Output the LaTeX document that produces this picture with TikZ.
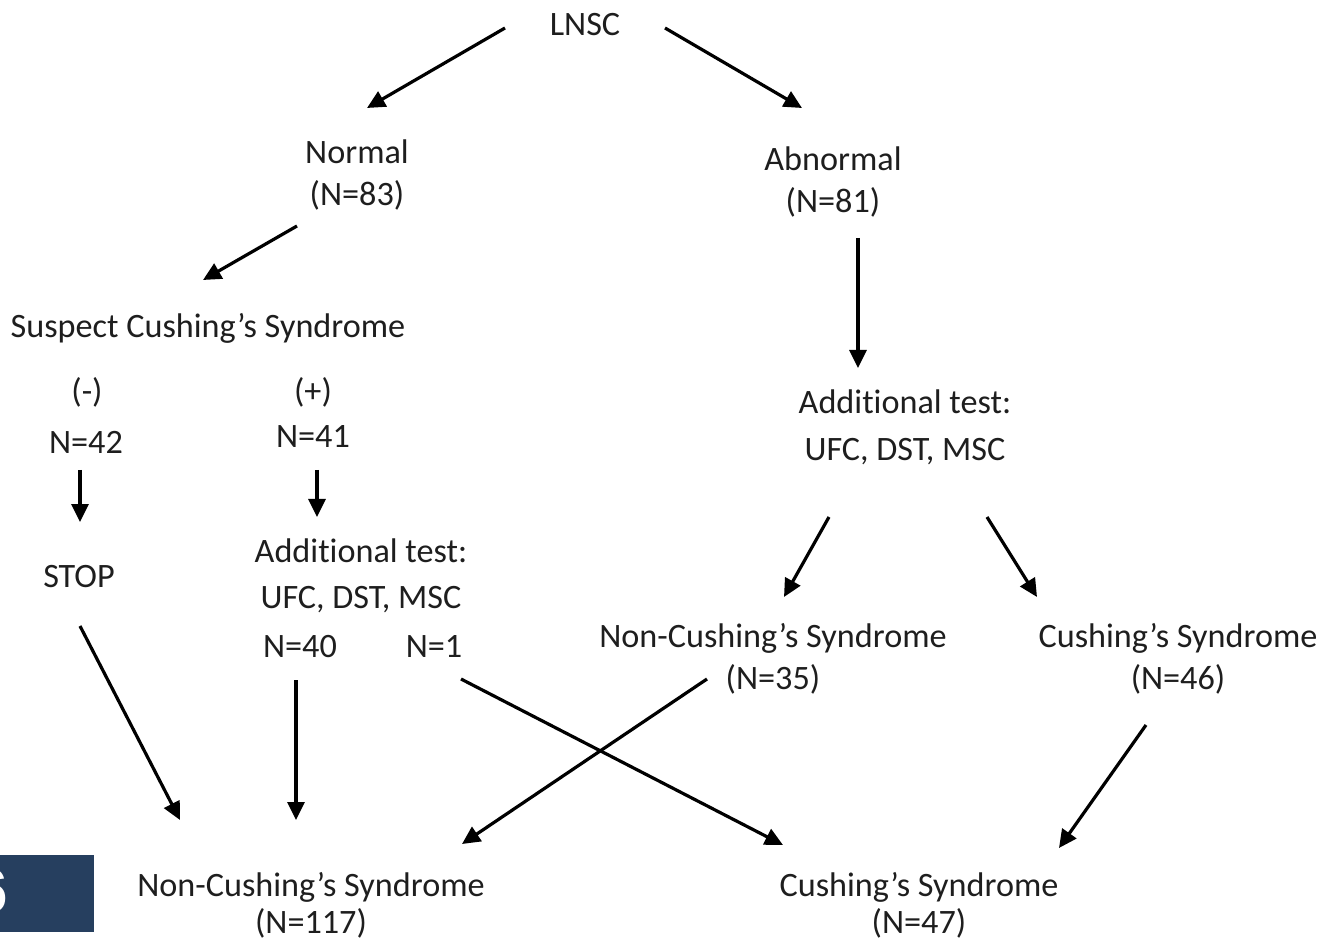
\documentclass[tikz,border=0pt]{standalone}
\usepackage{fontspec}
\setmainfont{Carlito}[Ligatures=NoCommon]
\newfontfamily\numfont{Liberation Sans}
\usetikzlibrary{arrows.meta}

\definecolor{slideblue}{RGB}{38,63,95}
\definecolor{textgray}{RGB}{30,30,30}

\tikzset{
  lbl/.style={inner sep=0pt, anchor=base, text=textgray, font=\fontsize{17.1}{20}\selectfont},
  arr/.style={-{Triangle[length=9pt,width=8.5pt]}, line width=1.6pt},
}

\begin{document}
\begin{tikzpicture}[x=0.5pt, y=-0.5pt]
  \useasboundingbox (0,0) rectangle (1324,941);

  % slide number box
  \begin{scope}
    \clip (0,855) rectangle (94,932);
    \fill[slideblue] (0,855) rectangle (94,932);
    \node[inner sep=0pt, anchor=base east, text=white,
      font=\numfont\bfseries\fontsize{31}{31}\selectfont] (slidenum) at (8,912) {6};
  \end{scope}

  % labels
  \node[lbl] (lnsc) at (585,36) {LNSC};
  \node[lbl] (normal) at (357,164) {Normal};
  \node[lbl] (normal-n) at (357,206) {(N=83)};
  \node[lbl] (abnormal) at (833,171) {Abnormal};
  \node[lbl] (abnormal-n) at (833,213) {(N=81)};
  \node[lbl] (suspect) at (208,338) {Suspect Cushing’s Syndrome};
  \node[lbl] (neg) at (87,403) {(-)};
  \node[lbl] (neg-n) at (86,453) {N=42};
  \node[lbl] (pos) at (313,403) {(+)};
  \node[lbl] (pos-n) at (313,448) {N=41};
  \node[lbl] (stop) at (79,587) {STOP};
  \node[lbl] (addl) at (361,562) {Additional test:};
  \node[lbl] (addl-t) at (361,608) {UFC, DST, MSC};
  \node[lbl] (addl-n40) at (300,657) {N=40};
  \node[lbl] (addl-n1) at (434,657) {N=1};
  \node[lbl] (addr) at (905,414) {Additional test:};
  \node[lbl] (addr-t) at (905,460) {UFC, DST, MSC};
  \node[lbl] (noncs-m) at (773,647) {Non-Cushing’s Syndrome};
  \node[lbl] (noncs-m-n) at (773,689) {(N=35)};
  \node[lbl] (cs-r) at (1178,647) {Cushing’s Syndrome};
  \node[lbl] (cs-r-n) at (1178,689) {(N=46)};
  \node[lbl] (noncs-b) at (311,896) {Non-Cushing’s Syndrome};
  \node[lbl] (noncs-b-n) at (311,933) {(N=117)};
  \node[lbl] (cs-b) at (919,896) {Cushing’s Syndrome};
  \node[lbl] (cs-b-n) at (919,933) {(N=47)};

  % arrow ends
  \coordinate (lnsc-l) at (505,28);
  \coordinate (lnsc-r) at (665,28);
  \coordinate (normal-in) at (367,108);
  \coordinate (abnormal-in) at (802,108);
  \coordinate (normal-out) at (297,226);
  \coordinate (suspect-in) at (203,280);
  \coordinate (abnormal-out) at (858,238);
  \coordinate (addr-in) at (858,368);
  \coordinate (neg-out) at (80,470);
  \coordinate (stop-in) at (80,522);
  \coordinate (pos-out) at (317,470);
  \coordinate (addl-in) at (317,517);
  \coordinate (addr-l) at (829,517);
  \coordinate (addr-r) at (987,517);
  \coordinate (noncs-m-in) at (784,597);
  \coordinate (cs-r-in) at (1037,597);
  \coordinate (stop-out) at (80,626);
  \coordinate (n40-out) at (296,680);
  \coordinate (n1-out) at (461,679);
  \coordinate (noncs-m-out) at (707,679);
  \coordinate (cs-r-out) at (1146,725);
  \coordinate (noncs-b-l) at (180,820);
  \coordinate (noncs-b-c) at (296,820);
  \coordinate (noncs-b-r) at (462,844);
  \coordinate (cs-b-l) at (783,845);
  \coordinate (cs-b-r) at (1059,848);

  % arrows
  \draw[arr] (lnsc-l) -- (normal-in);
  \draw[arr] (lnsc-r) -- (abnormal-in);
  \draw[arr] (normal-out) -- (suspect-in);
  \draw[arr] (abnormal-out) -- (addr-in);
  \draw[arr] (neg-out) -- (stop-in);
  \draw[arr] (pos-out) -- (addl-in);
  \draw[arr] (addr-l) -- (noncs-m-in);
  \draw[arr] (addr-r) -- (cs-r-in);
  \draw[arr] (stop-out) -- (noncs-b-l);
  \draw[arr] (n40-out) -- (noncs-b-c);
  \draw[arr] (n1-out) -- (cs-b-l);
  \draw[arr] (noncs-m-out) -- (noncs-b-r);
  \draw[arr] (cs-r-out) -- (cs-b-r);
\end{tikzpicture}
\end{document}
